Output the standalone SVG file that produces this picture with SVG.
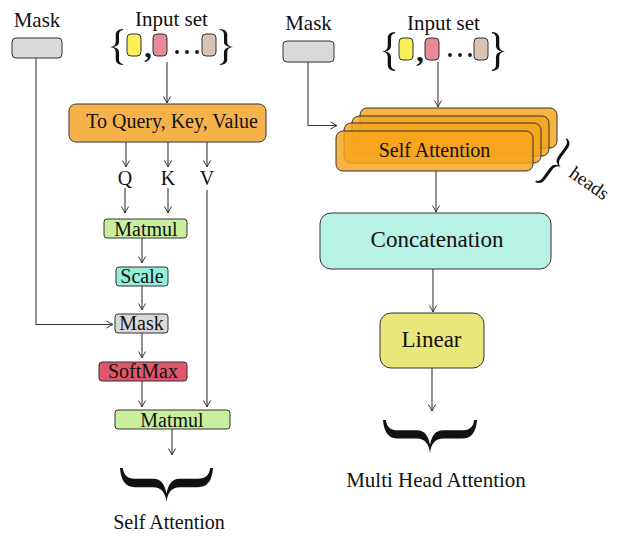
<svg xmlns="http://www.w3.org/2000/svg" xmlns:xlink="http://www.w3.org/1999/xlink" width="627" height="553" viewBox="0 0 627 553">
<style>
text{font-family:"Liberation Serif","Times New Roman",serif;fill:#111;}
.t20{font-size:20px;text-anchor:middle;}
.t21{font-size:21px;text-anchor:middle;}
.t23{font-size:23px;text-anchor:middle;}
.comma{font-size:30px;font-weight:bold;text-anchor:middle;}
.box{stroke:#333;stroke-width:1;}
.edge{fill:none;stroke:#3a3a3a;stroke-width:1.1;marker-end:url(#arr);}
.gray{fill:#d9d9d9;}
.orange{fill:#f6b24a;}
.green{fill:#c9ef9e;}
.teal{fill:#94eed9;}
.red{fill:#e0566a;}
.mint{fill:#b8f2e4;}
.lin{fill:#e9e67a;}
.stack{fill:#f5a51d;fill-opacity:0.83;stroke:#333;stroke-width:1;}
.dot{fill:#111;}
</style>
<defs>
<marker id="arr" viewBox="-8 -5 10 10" refX="0" refY="0" markerWidth="10" markerHeight="10" markerUnits="userSpaceOnUse" orient="auto">
<path d="M -6.5,-3.6 Q -2.5,-1 0,0 Q -2.5,1 -6.5,3.6" fill="none" stroke="#333" stroke-width="1"/>
</marker>
<path id="brace" d="M 32,0 C 20,1 14,6 14,16 L 14,36 C 14,44 9,49 0,50 C 9,51 14,56 14,64 L 14,84 C 14,94 20,99 32,100 L 32,97 C 25,96 22,92 22,84 L 22,64 C 22,56 17,52 8,50 C 17,48 22,44 22,36 L 22,16 C 22,8 25,4 32,3 Z" fill="#111"/>
</defs>

<g id="connectors">
<path class="edge" d="M167,62 L167,103"/>
<path class="edge" d="M126,142 L126,167"/>
<path class="edge" d="M168,142 L168,167"/>
<path class="edge" d="M207,142 L207,167"/>
<path class="edge" d="M125,188 L125,213"/>
<path class="edge" d="M168,188 L168,213"/>
<path class="edge" d="M142,238 L142,263"/>
<path class="edge" d="M142,286 L142,310"/>
<path class="edge" d="M36,58 L36,324.5 L113,324.5"/>
<path class="edge" d="M142,333 L142,358"/>
<path class="edge" d="M142,381 L142,407"/>
<path class="edge" d="M207,190 L207,407"/>
<path class="edge" d="M172,429 L172,455"/>
<path class="edge" d="M438,62 L438,107"/>
<path class="edge" d="M308,62 L308,125.5 L337,125.5"/>
<path class="edge" d="M436,171 L436,212"/>
<path class="edge" d="M433,269 L433,312"/>
<path class="edge" d="M432,368 L432,411"/>
</g>

<g id="left-mask-input">
<text class="t21" x="37" y="27">Mask</text>
<rect class="box gray" x="12" y="38" width="50" height="20" rx="4"/>
</g>
<g id="left-input-set">
<text class="t21" x="171.5" y="26">Input set</text>
<use xlink:href="#brace" transform="translate(110,29) scale(0.41,0.36)"/>
<rect class="box" x="127" y="34" width="14" height="22" rx="4" fill="#faf05a"/>
<text class="comma" x="148" y="57">,</text>
<rect class="box" x="153" y="34" width="14" height="22" rx="4" fill="#e88a96"/>
<circle class="dot" cx="177" cy="52" r="1.9"/>
<circle class="dot" cx="187" cy="52" r="1.9"/>
<circle class="dot" cx="197" cy="52" r="1.9"/>
<rect class="box" x="202" y="34" width="14" height="22" rx="4" fill="#d8c4b2"/>
<use xlink:href="#brace" transform="translate(233,29) scale(-0.41,0.36)"/>
</g>
<g id="to-qkv">
<rect class="box orange" x="69" y="104" width="197" height="38" rx="7"/>
<text class="t20" x="172" y="128">To Query, Key, Value</text>
</g>
<g id="q"><text class="t20" x="125" y="185">Q</text></g>
<g id="k"><text class="t20" x="168" y="185">K</text></g>
<g id="v"><text class="t20" x="207" y="185">V</text></g>
<g id="matmul1">
<rect class="box green" x="104" y="219" width="83" height="19" rx="3"/>
<text class="t20" x="146" y="235.5">Matmul</text>
</g>
<g id="scale">
<rect class="box teal" x="116" y="267" width="52" height="19" rx="3"/>
<text class="t20" x="142" y="283">Scale</text>
</g>
<g id="mask-op">
<rect class="box gray" x="115" y="314" width="53" height="19" rx="3"/>
<text class="t20" x="141.5" y="330">Mask</text>
</g>
<g id="softmax">
<rect class="box red" x="99" y="362" width="88" height="19" rx="3"/>
<text class="t20" x="143" y="378">SoftMax</text>
</g>
<g id="matmul2">
<rect class="box green" x="115" y="410" width="115" height="19" rx="3"/>
<text class="t20" x="172" y="426.5">Matmul</text>
</g>
<g id="self-attention-label">
<use xlink:href="#brace" transform="translate(120,502) scale(0.93,1.06) rotate(-90)"/>
<text class="t20" x="169" y="529">Self Attention</text>
</g>

<g id="right-mask-input">
<text class="t21" x="308.5" y="30">Mask</text>
<rect class="box gray" x="283" y="41" width="51" height="21" rx="4"/>
</g>
<g id="right-input-set">
<text class="t21" x="443.5" y="30">Input set</text>
<use xlink:href="#brace" transform="translate(382,32) scale(0.41,0.39)"/>
<rect class="box" x="399" y="38" width="14" height="22" rx="4" fill="#faf05a"/>
<text class="comma" x="420" y="61">,</text>
<rect class="box" x="425" y="38" width="14" height="22" rx="4" fill="#e88a96"/>
<circle class="dot" cx="450" cy="55" r="1.9"/>
<circle class="dot" cx="460" cy="55" r="1.9"/>
<circle class="dot" cx="470" cy="55" r="1.9"/>
<rect class="box" x="474" y="38" width="14" height="22" rx="4" fill="#d8c4b2"/>
<use xlink:href="#brace" transform="translate(505,32) scale(-0.41,0.39)"/>
</g>
<g id="self-attention-stack">
<rect class="stack" x="360" y="108" width="197" height="40" rx="7"/>
<rect class="stack" x="352" y="116" width="197" height="40" rx="7"/>
<rect class="stack" x="344" y="123" width="197" height="40" rx="7"/>
<rect class="stack" x="336" y="131" width="197" height="40" rx="7"/>
<text class="t20" x="434.5" y="157">Self Attention</text>
</g>
<g id="heads">
<use xlink:href="#brace" transform="translate(551,160) rotate(36) scale(0.375,0.54) translate(32,-50) scale(-1,1)"/>
<text x="0" y="0" style="font-size:19px;" transform="translate(568,176) rotate(35)">heads</text>
</g>
<g id="concatenation">
<rect class="box mint" x="320" y="213" width="231" height="56" rx="11"/>
<text class="t23" x="437" y="247">Concatenation</text>
</g>
<g id="linear">
<rect class="box lin" x="380" y="313" width="104" height="55" rx="11"/>
<text class="t23" x="431.5" y="347">Linear</text>
</g>
<g id="multi-head-label">
<use xlink:href="#brace" transform="translate(383,453) scale(0.94,1.03) rotate(-90)"/>
<text class="t20" x="436" y="487" style="font-size:21px;">Multi Head Attention</text>
</g>
</svg>
